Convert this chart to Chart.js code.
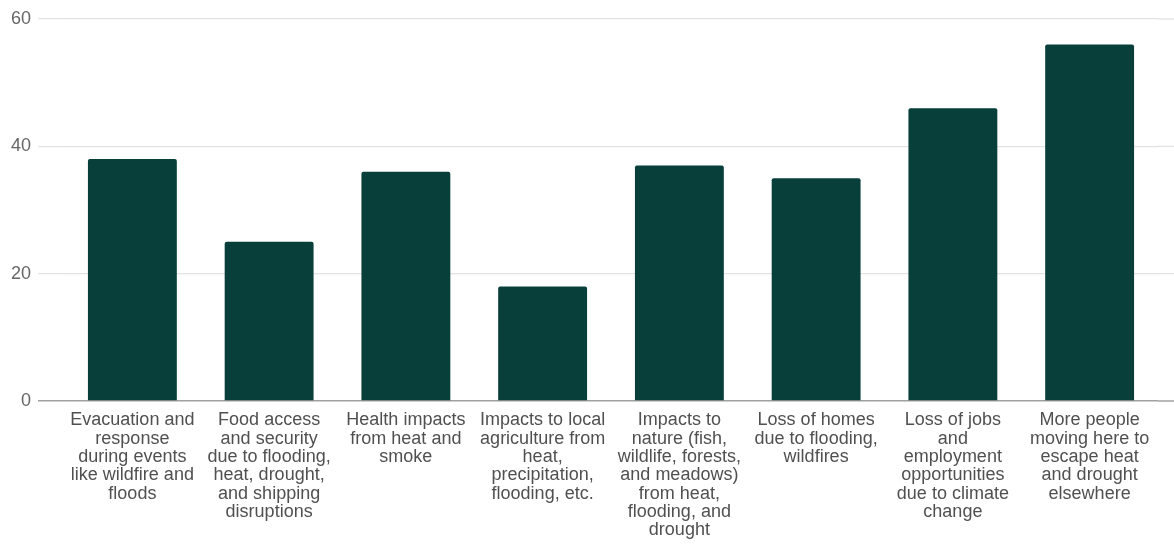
<!DOCTYPE html>
<html>
<head>
<meta charset="utf-8">
<script src="https://cdn.jsdelivr.net/npm/chart.js@4/dist/chart.umd.min.js"></script>
<style>
  html, body { margin: 0; padding: 0; background: #ffffff; }
  #wrap { width: 1174px; height: 544px; }
</style>
</head>
<body>
<div id="wrap"><canvas id="c" width="1174" height="544"></canvas></div>
<script>
// Concern categories (wrapped into lines for the axis)
const categories = [
  ["Evacuation and", "response", "during events", "like wildfire and", "floods"],
  ["Food access", "and security", "due to flooding,", "heat, drought,", "and shipping", "disruptions"],
  ["Health impacts", "from heat and", "smoke"],
  ["Impacts to local", "agriculture from", "heat,", "precipitation,", "flooding, etc."],
  ["Impacts to", "nature (fish,", "wildlife, forests,", "and meadows)", "from heat,", "flooding, and", "drought"],
  ["Loss of homes", "due to flooding,", "wildfires"],
  ["Loss of jobs", "and", "employment", "opportunities", "due to climate", "change"],
  ["More people", "moving here to", "escape heat", "and drought", "elsewhere"]
];

// Number of responses per concern
const responses = [38, 25, 36, 18, 37, 35, 46, 56];

// Value axis ticks
const yTicks = [0, 20, 40, 60];

const labelFont = { family: "'Liberation Sans', Arial, sans-serif", size: 18, lineHeight: 1.02 };

const gridColor = (v) => (v === 0 ? '#a0a0a0' : '#e2e2e2');
const gridWidth = (v) => (v === 0 ? 1.5 : 1.2);

// Carry the horizontal grid lines on to the right edge of the canvas
const gridToEdge = {
  id: 'gridToEdge',
  beforeDatasetsDraw(chart) {
    const { ctx, chartArea, scales } = chart;
    ctx.save();
    scales.y.ticks.forEach((t) => {
      const y = scales.y.getPixelForValue(t.value);
      ctx.beginPath();
      ctx.strokeStyle = gridColor(t.value);
      ctx.lineWidth = gridWidth(t.value);
      ctx.moveTo(chartArea.right, y);
      ctx.lineTo(chart.width, y);
      ctx.stroke();
    });
    ctx.restore();
  }
};

new Chart(document.getElementById('c'), {
  type: 'bar',
  data: {
    labels: categories,
    datasets: [{
      data: responses,
      backgroundColor: '#083f3b',
      borderRadius: 2,
      borderSkipped: 'bottom',
      barPercentage: 0.65,
      categoryPercentage: 1.0
    }]
  },
  plugins: [gridToEdge],
  options: {
    responsive: false,
    animation: false,
    devicePixelRatio: 1,
    layout: { padding: { left: 0, right: 16, top: 19, bottom: 0 } },
    plugins: { legend: { display: false }, tooltip: { enabled: false } },
    scales: {
      x: {
        grid: { display: false, drawTicks: false },
        border: { display: false },
        afterFit: (scale) => { scale.height = 143; },
        ticks: {
          autoSkip: false,
          maxRotation: 0,
          minRotation: 0,
          padding: 10,
          color: '#505050',
          font: labelFont
        }
      },
      y: {
        min: yTicks[0],
        max: yTicks[yTicks.length - 1],
        afterBuildTicks: (scale) => { scale.ticks = yTicks.map(v => ({ value: v })); },
        afterFit: (scale) => { scale.width = 64; scale.paddingTop = 0; },
        border: { display: false },
        grid: {
          color: (ctx) => gridColor(ctx.tick ? ctx.tick.value : null),
          lineWidth: (ctx) => gridWidth(ctx.tick ? ctx.tick.value : null),
          tickLength: 26,
          drawTicks: true
        },
        ticks: {
          padding: 7,
          color: '#666666',
          font: labelFont
        }
      }
    }
  }
});
</script>
</body>
</html>
